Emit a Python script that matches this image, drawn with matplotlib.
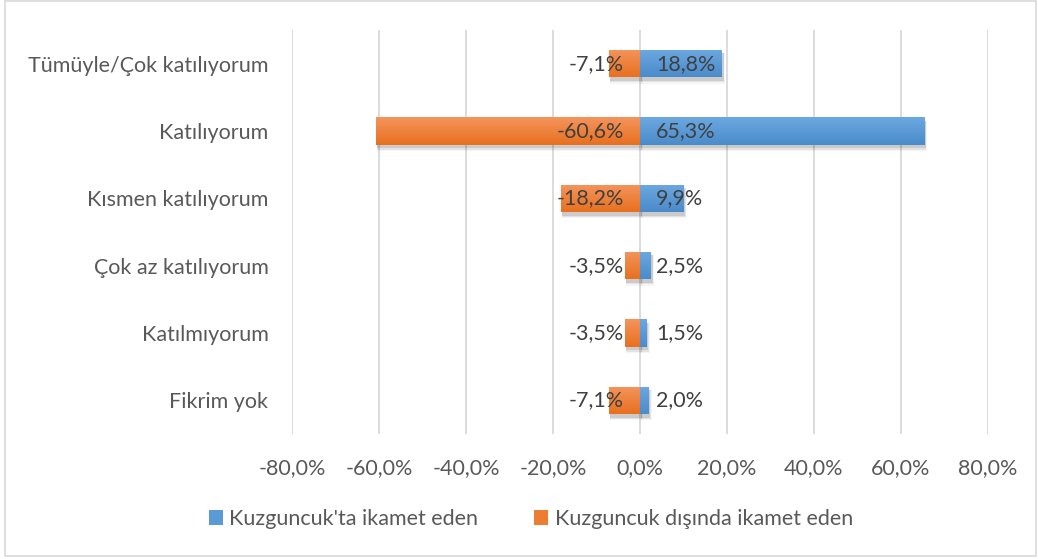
import numpy as np
import matplotlib
matplotlib.use("Agg")
import matplotlib.pyplot as plt
from matplotlib.patches import Rectangle, Patch

categories = ["Tümüyle/Çok katılıyorum", "Katılıyorum", "Kısmen katılıyorum",
              "Çok az katılıyorum", "Katılmıyorum", "Fikrim yok"]
inside = [18.8, 65.3, 9.9, 2.5, 1.5, 2.0]
outside = [-7.1, -60.6, -18.2, -3.5, -3.5, -7.1]
series_names = ["Kuzguncuk'ta ikamet eden", "Kuzguncuk dışında ikamet eden"]
xticks = [-80, -60, -40, -20, 0, 20, 40, 60, 80]

plt.rcParams["font.family"] = ["Lato", "DejaVu Sans"]
txt = "#595959"
blue = ("#6CA8E0", "#4A8BCB", "#5B9BD5")
orange = ("#F4945C", "#E8701F", "#ED7D31")
fs = 15.5

fig = plt.figure(figsize=(10.38, 5.59), dpi=100)
ax = fig.add_axes([292 / 1038, 1 - 434 / 559, 696 / 1038, 404 / 559])
fig.patches.append(Rectangle((5 / 1038, 3 / 559), 1031 / 1038, 555 / 559,
                             transform=fig.transFigure, fill=False,
                             edgecolor="#D9D9D9", linewidth=1.2))

y = np.arange(len(categories))
h = 0.41


def draw_bars(vals, cols):
    bars = ax.barh(y, vals, height=h, color=cols[2], zorder=3)
    grad = np.linspace(0, 1, 50).reshape(-1, 1)
    c0 = np.array(matplotlib.colors.to_rgb(cols[0]))
    c1 = np.array(matplotlib.colors.to_rgb(cols[1]))
    img = c0 + grad[..., None] * (c1 - c0)
    for b, v, yy in zip(bars, vals, y):
        x0, x1 = sorted([0, v])
        # soft shadow
        for k, a in enumerate([0.10, 0.07, 0.04]):
            s = 0.35 + 0.25 * k
            ax.add_patch(Rectangle((x0 + 0.2, yy - h / 2 + 0.05), x1 - x0 + s * 0.6, h + 0.02 * k,
                                   facecolor="#000000", alpha=a, lw=0, zorder=2))
        im = ax.imshow(img, extent=(x0, x1, yy + h / 2, yy - h / 2), origin="upper",
                       aspect="auto", zorder=4, interpolation="bilinear")
        im.set_clip_path(b)
    return bars


draw_bars(outside, orange)
draw_bars(inside, blue)

for yy, v in zip(y, inside):
    ax.annotate(f"{v:.1f}%".replace(".", ","), xy=(0, yy), xytext=(16, 0),
                textcoords="offset pixels", ha="left", va="center",
                fontsize=fs, color="#404040", zorder=6)
for yy, v in zip(y, outside):
    ax.annotate(f"{v:.1f}%".replace(".", ","), xy=(0, yy), xytext=(-16, 0),
                textcoords="offset pixels", ha="right", va="center",
                fontsize=fs, color="#404040", zorder=6)

ax.set_xlim(-80, 80)
ax.set_ylim(len(categories) - 0.5, -0.5)
ax.set_yticks(y)
ax.set_yticklabels(categories)
ax.set_xticks(xticks)
ax.set_xticklabels([f"{t:.1f}%".replace(".", ",") for t in xticks])
ax.tick_params(axis="both", length=0, labelsize=fs, colors=txt)
ax.tick_params(axis="y", pad=17)
ax.tick_params(axis="x", pad=17)
for s in ax.spines.values():
    s.set_visible(False)
ax.grid(axis="x", color="#D9D9D9", linewidth=1.3, zorder=0)
ax.set_axisbelow(True)

handles = [Patch(facecolor=blue[2]), Patch(facecolor=orange[2])]
fig.legend(handles, series_names, loc="center", bbox_to_anchor=(531 / 1038, 1 - 519 / 559),
           ncol=2, frameon=False, fontsize=fs, labelcolor=txt,
           handlelength=0.65, handleheight=0.65, handletextpad=0.3, columnspacing=2.6)

fig.savefig("out.png", dpi=100)
